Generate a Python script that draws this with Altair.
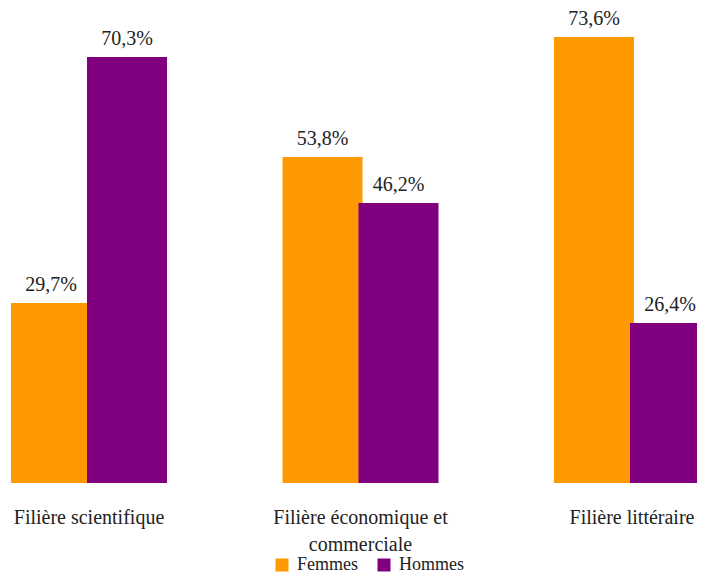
import altair as alt
import pandas as pd

categories = ["Filière scientifique", "Filière économique et\ncommerciale", "Filière littéraire"]
femmes = [29.7, 53.8, 73.6]
hommes = [70.3, 46.2, 26.4]
series = ["Femmes", "Hommes"]
colors = ["#FF9900", "#800080"]

rows = []
for c, f, h in zip(categories, femmes, hommes):
    rows.append({"Filière": c, "Sexe": "Femmes", "val": f, "lab": f"{f:.1f}".replace(".", ",") + "%"})
    rows.append({"Filière": c, "Sexe": "Hommes", "val": h, "lab": f"{h:.1f}".replace(".", ",") + "%"})
df = pd.DataFrame(rows)

FONT = "Liberation Serif"
TXT = "#222222"
SHIFT = 8

x = alt.X("Filière:N", sort=categories, axis=None,
          scale=alt.Scale(paddingInner=0.4622, paddingOuter=0))
y = alt.Y("val:Q", axis=None, scale=alt.Scale(domain=[0, 78.4], nice=False))
color = alt.Color("Sexe:N", scale=alt.Scale(domain=series, range=colors),
                  legend=alt.Legend(orient="none", legendX=265, legendY=548,
                                    direction="horizontal", title=None,
                                    symbolType="square", symbolSize=169,
                                    symbolStrokeWidth=0, labelFontSize=18,
                                    labelFont=FONT, labelColor=TXT,
                                    columnPadding=17, labelOffset=6))

base = alt.Chart(df)

def bars(sexe, off):
    b = base.transform_filter(alt.datum.Sexe == sexe).mark_bar(width=80, xOffset=off).encode(
        x=x, y=y, color=color)
    t = base.transform_filter(alt.datum.Sexe == sexe).mark_text(
        xOffset=off, dy=-12, baseline="alphabetic", align="center",
        font=FONT, fontSize=20, color=TXT).encode(x=x, y=y, text="lab:N")
    return b, t

bf, tf = bars("Femmes", -38 + SHIFT)
bh, th = bars("Hommes", 38 + SHIFT)

cats = base.transform_filter(alt.datum.Sexe == "Femmes").mark_text(
    xOffset=SHIFT, baseline="alphabetic", align="center", lineBreak="\n",
    lineHeight=27, font=FONT, fontSize=20, color=TXT).encode(
    x=x, y=alt.value(516), text="Filière:N")

chart = alt.layer(bf, bh, tf, th, cats).properties(
    width=689, height=475,
    padding={"left": 0, "top": 0, "right": 0, "bottom": 92},
    autosize="none",
).configure_view(stroke=None)

chart.save("out.html", embed_options={"renderer": "svg", "actions": False})
